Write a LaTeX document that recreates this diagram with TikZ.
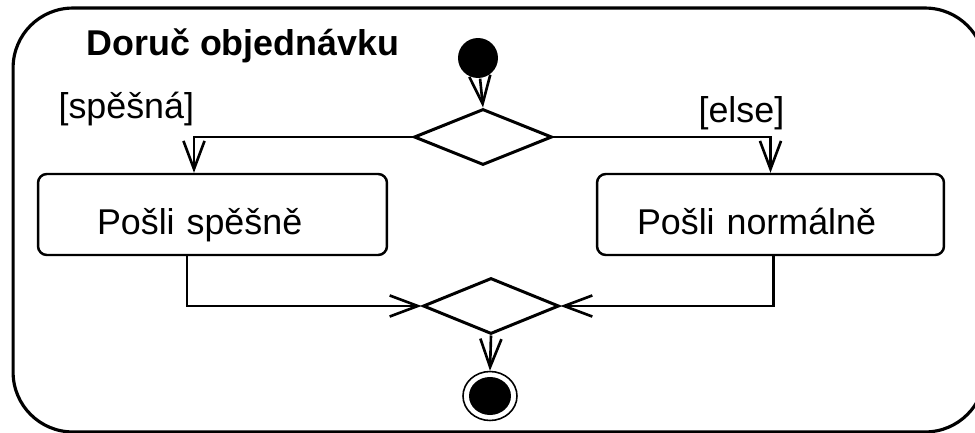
\documentclass[tikz,border=0pt]{standalone}
\usepackage{fontspec}
\setmainfont{Liberation Sans}
\usetikzlibrary{shapes.geometric,arrows.meta}

\begin{document}
\begin{tikzpicture}[x=0.02cm,y=-0.02cm,thick,
	every node/.style={font=\fontsize{20.4}{24}\selectfont},
	activity/.style={draw,rectangle,rounded corners=34pt,line width=1.8pt,minimum width=19.44cm,minimum height=8.48cm},
	action/.style={draw,rectangle,rounded corners=5pt,line width=1.4pt,minimum height=1.62cm,align=left,inner ysep=0pt,text height=0.82cm,text depth=0pt},
	branch/.style={draw,diamond,line width=1.7pt,inner sep=0pt,minimum height=1.12cm},
	start/.style={circle,fill=black,inner sep=0pt,minimum size=0.8cm},
	finish/.style={draw,ellipse,line width=0.9pt,inner sep=0pt,minimum width=1.08cm,minimum height=0.98cm,
		path picture={\fill (path picture bounding box.center) ellipse [x radius=0.42cm,y radius=0.38cm];}},
	flow/.style={->,>={Straight Barb[length=16pt,width=12pt]},line width=1.5pt}]
			\useasboundingbox (0,0) rectangle (975,433);
			\node[activity] (act)at(499,220) {};
			\node[anchor=base west,font=\fontsize{20.4}{24}\selectfont\bfseries] (title)at(80,55) {Doruč objednávku};
			\node[start] (start)at(478,58) {};
			\node[branch,minimum width=2.76cm] (decision)at(483,137) {};
			\node[anchor=base west] (guardfast)at(52,118) {[spěšná]};
			\node[anchor=base west] (guardelse)at(692,122) {[else]};
			\node[action,text width=4.62cm,inner xsep=1.18cm] (fast)at(212.5,214.5) {Pošli spěšně};
			\node[action,text width=5.34cm,inner xsep=0.8cm] (normal)at(770.5,214.5) {Pošli normálně};
			\node[branch,minimum width=2.72cm] (merge)at(491,306) {};
			\node[finish] (final)at(490,396) {};
			\draw[flow] (start) -- (decision.north);
			\draw[flow] (decision.west) -| ([xshift=-0.37cm]fast.north);
			\draw[flow] (decision.east) -| (normal.north);
			\draw[flow] ([xshift=-0.51cm]fast.south) |- (merge.west);
			\draw[flow] ([xshift=0.06cm]normal.south) |- (merge.east);
			\draw[flow] (merge.south) -- (final.north);
\end{tikzpicture}
\end{document}
